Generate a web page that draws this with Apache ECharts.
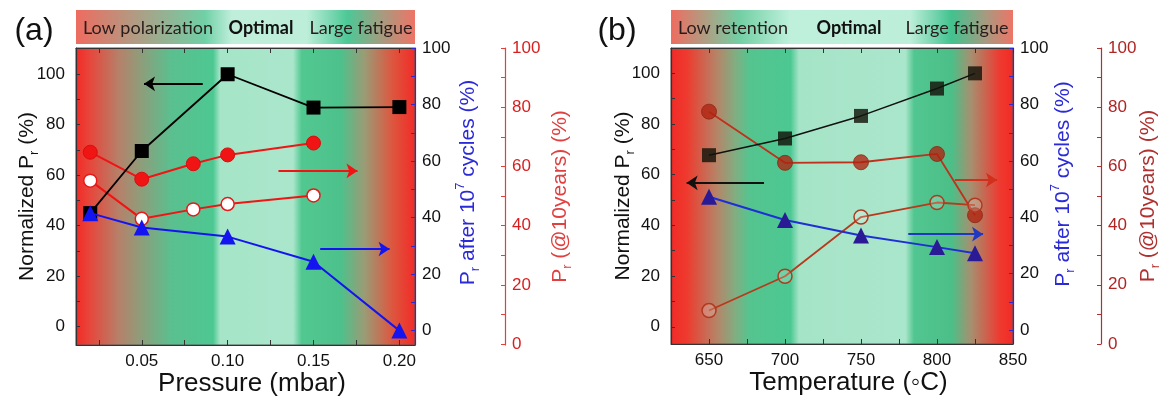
<!DOCTYPE html>
<html><head><meta charset="utf-8">
<script src="https://cdn.jsdelivr.net/npm/echarts@6.0.0/dist/echarts.min.js"></script>
<style>html,body{margin:0;padding:0;background:#fff}#c{width:1164px;height:404px}</style>
</head><body><div id="c"></div>
<script>
// ---------- data (a): pressure ----------
const pressureNorm = [0.02, 0.05, 0.10, 0.15, 0.20];
const normPrA      = [45.0, 69.6, 100, 86.8, 87.0];
const fatigueA     = [41.6, 36.5, 33.3, 24.4, 0];
const pressureRet  = [0.02, 0.05, 0.08, 0.10, 0.15];
const retFilledA   = [64.8, 55.7, 60.9, 63.9, 67.9];
const retOpenA     = [55.2, 42.3, 45.5, 47.3, 50.2];
// ---------- data (b): temperature ----------
const temps        = [650, 700, 750, 800, 825];
const normPrB      = [67.7, 74.3, 83.2, 94.0, 100];
const fatigueB     = [47.3, 39.0, 33.5, 29.4, 27.2];
const retFilledB   = [78.5, 61.2, 61.4, 64.2, 43.5];
const retOpenB     = [11.3, 22.9, 42.9, 47.8, 46.9];
// ---------- ticks ----------
const pressureTicks  = [0.025, 0.05, 0.075, 0.10, 0.125, 0.15, 0.175, 0.20];
const pressureLabels = [0.05, 0.10, 0.15, 0.20];
const tempTicks      = [650, 675, 700, 725, 750, 775, 800, 825, 850];
const tempLabels     = [650, 700, 750, 800, 850];
const yLabels        = [0, 20, 40, 60, 80, 100];
const yTicks         = [0, 10, 20, 30, 40, 50, 60, 70, 80, 90, 100];
// ---------- annotation arrows (data coords) ----------
const arrowNormA = [[0.0855, 96.2], [0.0513, 96.2]];
const arrowRetA  = [[0.1296, 58.5], [0.1756, 58.5]];
const arrowFatA  = [[0.1539, 28.9], [0.1943, 28.9]];
const arrowNormB = [[686.2, 56.8], [635.3, 56.8]];
const arrowRetB  = [[811.8, 55.4], [839.5, 55.4]];
const arrowFatB  = [[781.1, 34.0], [830.3, 34.0]];

const F = "'Liberation Sans', Arial, sans-serif";
const chart = echarts.init(document.getElementById('c'));
const LG = echarts.graphic.LinearGradient;
function grad(stops) { return new LG(0, 0, 1, 0, stops.map(s => ({ offset: s[0], color: s[1] }))); }
function pairs(xs, ys) { return xs.map((x, i) => [x, ys[i]]); }
function arrow(a, color) {
  return { silent: true, animation: false, symbol: ['none', 'arrow'], symbolSize: 11,
    lineStyle: { color: color, width: 2, type: 'solid' }, label: { show: false },
    emphasis: { disabled: true },
    data: [[{ coord: a[0] }, { coord: a[1] }]] };
}
function richName(color) {
  return { fontFamily: F, fontSize: 21, color: color,
    rich: {
      n: { fontFamily: F, fontSize: 21, lineHeight: 28, color: color },
      s: { fontFamily: F, fontSize: 13, lineHeight: 14, verticalAlign: 'bottom', color: color },
      p: { fontFamily: F, fontSize: 13, lineHeight: 14, verticalAlign: 'top', color: color }
    } };
}

const bgA = grad([[0,'#f22a26'],[0.04,'#e8453a'],[0.13,'#b4826a'],[0.19,'#8f9c7a'],[0.28,'#5bbf8f'],[0.405,'#4dc892'],[0.425,'#a6e5c8'],[0.64,'#aae6cb'],[0.665,'#52c891'],[0.78,'#4dc18b'],[0.85,'#9b9b76'],[0.93,'#dc5840'],[1,'#f22a26']]);
const bgB = grad([[0,'#f22a26'],[0.047,'#ee3a2e'],[0.135,'#b68468'],[0.19,'#80ae82'],[0.23,'#55c48f'],[0.35,'#4cc892'],[0.375,'#a6e4c8'],[0.685,'#aae6cb'],[0.71,'#52c690'],[0.82,'#4cbf88'],[0.875,'#a59070'],[0.96,'#ee3a30'],[1,'#f22a26']]);
const bandA = grad([[0,'#ee6c60'],[0.2,'#a8a288'],[0.38,'#6fd0a6'],[0.46,'#c0eedb'],[0.68,'#bdeed9'],[0.8,'#4cc896'],[0.9,'#a49c80'],[1,'#ee7466']]);
const bandB = grad([[0,'#ee6c60'],[0.2,'#72cfa4'],[0.35,'#bff0dc'],[0.7,'#bdeed9'],[0.82,'#42c28f'],[0.92,'#a69a80'],[1,'#ee7466']]);

function xAxisDef(grid, min, max, ticks, labels, fmt, name, pos) {
  const top = pos === 'top';
  return { type: 'value', gridIndex: grid, position: pos, min: min, max: max,
    name: top ? '' : name, nameLocation: 'middle', nameGap: 26, nameMoveOverlap: false,
    nameTextStyle: { fontFamily: F, fontSize: 26, color: '#111', padding: [0, 0, 0, 13] },
    axisLine: { show: true, onZero: false, lineStyle: { color: '#333', width: 1 } },
    axisTick: { show: true, inside: true, length: 5, customValues: ticks, lineStyle: { color: '#333' } },
    axisLabel: { show: !top, customValues: labels, formatter: fmt, fontFamily: F, fontSize: 17, color: '#111', margin: 8 },
    splitLine: { show: false } };
}
function yAxisDef(grid, pos, offset, min, max, color, labelColor, name, nameGap, tickInside, pad) {
  return { type: 'value', gridIndex: grid, position: pos, offset: offset, min: min, max: max,
    name: name, nameLocation: 'middle', nameGap: nameGap, nameRotate: 90, nameMoveOverlap: false,
    nameTextStyle: Object.assign(richName(color === '#333' ? '#111' : color), { padding: pad || 0 }),
    axisLine: { show: true, onZero: false, lineStyle: { color: color, width: 1.2 } },
    axisTick: { show: true, inside: tickInside, length: 4, customValues: yTicks, lineStyle: { color: color } },
    axisLabel: { customValues: yLabels, fontFamily: F, fontSize: 17, color: labelColor, margin: pos === 'left' ? 11 : 7 },
    splitLine: { show: false } };
}

const option = {
  animation: false,
  grid: [
    { left: 76, right: 749, top: 48, bottom: 59, show: true, backgroundColor: bgA, borderColor: '#555', borderWidth: 1 },
    { left: 671, right: 151, top: 48, bottom: 60, show: true, backgroundColor: bgB, borderColor: '#555', borderWidth: 1 }
  ],
  xAxis: [
    xAxisDef(0, 0.0117, 0.2091, pressureTicks, pressureLabels, v => v.toFixed(2), 'Pressure (mbar)', 'bottom'),
    xAxisDef(0, 0.0117, 0.2091, pressureTicks, pressureLabels, v => v.toFixed(2), '', 'top'),
    xAxisDef(1, 625, 850, tempTicks, tempLabels, v => String(v), 'Temperature (\u25e6C)', 'bottom'),
    xAxisDef(1, 625, 850, tempTicks, tempLabels, v => String(v), '', 'top')
  ],
  yAxis: [
    yAxisDef(0, 'left', 0, -7.25, 110.4, '#333', '#111', '{n|Normalized P}{s|r}{n| (%)}', 35, true),
    yAxisDef(0, 'right', 0, -5.1, 100.1, '#2a2ad8', '#111', '{n|P}{s|r}{n| after 10}{p|7}{n| cycles (%)}', 39, true, [0, 0, 0, 28]),
    yAxisDef(0, 'right', 90, -0.3, 100, '#e04040', '#d81e1e', '{n|P}{s|r}{n| (@10years) (%)}', 41, true),
    yAxisDef(1, 'left', 0, -6.8, 110, '#333', '#111', '{n|Normalized P}{s|r}{n| (%)}', 34, true),
    yAxisDef(1, 'right', 0, -5.0, 100.1, '#2a2ad8', '#111', '{n|P}{s|r}{n| after 10}{p|7}{n| cycles (%)}', 36, true, [0, 0, 0, 24]),
    yAxisDef(1, 'right', 88, 0, 100, '#b03030', '#b02424', '{n|P}{s|r}{n| (@10years) (%)}', 33, true)
  ],
  series: [
    { type: 'line', xAxisIndex: 0, yAxisIndex: 2, data: pairs(pressureRet, retFilledA), symbol: 'circle', symbolSize: 14,
      itemStyle: { color: '#f01414', borderColor: '#d80f0f', borderWidth: 1 }, lineStyle: { color: '#f01414', width: 2 },
      markLine: arrow(arrowRetA, '#f01414'), z: 2 },
    { type: 'line', xAxisIndex: 0, yAxisIndex: 2, data: pairs(pressureRet, retOpenA), symbol: 'circle', symbolSize: 13,
      itemStyle: { color: '#ffffff', borderColor: '#e81818', borderWidth: 1.5 }, lineStyle: { color: '#f01414', width: 2 }, z: 2 },
    { type: 'line', xAxisIndex: 0, yAxisIndex: 0, data: pairs(pressureNorm, normPrA), symbol: 'rect', symbolSize: 14,
      itemStyle: { color: '#000' }, lineStyle: { color: '#000', width: 1.8 },
      markLine: arrow(arrowNormA, '#000'), z: 3 },
    { type: 'line', xAxisIndex: 0, yAxisIndex: 1, data: pairs(pressureNorm, fatigueA), symbol: 'triangle', symbolSize: 16,
      itemStyle: { color: '#1414f0' }, lineStyle: { color: '#1414f0', width: 2 },
      markLine: arrow(arrowFatA, '#1414f0'), z: 4 },

    { type: 'line', xAxisIndex: 2, yAxisIndex: 5, data: pairs(temps, retFilledB), symbol: 'circle', symbolSize: 15,
      itemStyle: { color: 'rgba(175,35,15,0.78)', borderColor: 'rgba(140,40,20,0.8)', borderWidth: 1 }, lineStyle: { color: '#c0301c', width: 1.8 },
      markLine: arrow(arrowRetB, '#d0301c'), z: 2 },
    { type: 'line', xAxisIndex: 2, yAxisIndex: 5, data: pairs(temps, retOpenB), symbol: 'circle', symbolSize: 14,
      itemStyle: { color: 'rgba(255,255,255,0.2)', borderColor: '#b03a20', borderWidth: 1.5 }, lineStyle: { color: '#b83a1c', width: 1.8 }, z: 2 },
    { type: 'line', xAxisIndex: 2, yAxisIndex: 3, data: pairs(temps, normPrB), symbol: 'rect', symbolSize: 14,
      itemStyle: { color: 'rgba(20,20,10,0.82)' }, lineStyle: { color: '#111', width: 1.5 },
      markLine: arrow(arrowNormB, '#111'), z: 3 },
    { type: 'line', xAxisIndex: 2, yAxisIndex: 4, data: pairs(temps, fatigueB), symbol: 'triangle', symbolSize: 16,
      itemStyle: { color: '#2a1a96' }, lineStyle: { color: '#1e2fd6', width: 2 },
      markLine: arrow(arrowFatB, '#2038c0'), z: 4 }
  ],
  graphic: [
    { type: 'rect', shape: { x: 76, y: 10, width: 339, height: 34 }, style: { fill: bandA }, z: 0 },
    { type: 'rect', shape: { x: 671, y: 10, width: 342, height: 34 }, style: { fill: bandB }, z: 0 },
    { type: 'text', x: 148, y: 28, style: { text: 'Low polarization', font: "18px Lato, 'Open Sans', sans-serif", fill: '#2a1c1c', align: 'center', verticalAlign: 'middle' }, z: 1 },
    { type: 'text', x: 261, y: 28, style: { text: 'Optimal', font: "bold 18px Lato, 'Open Sans', sans-serif", fill: '#111', align: 'center', verticalAlign: 'middle' }, z: 1 },
    { type: 'text', x: 361, y: 28, style: { text: 'Large fatigue', font: "18px Lato, 'Open Sans', sans-serif", fill: '#2a1c1c', align: 'center', verticalAlign: 'middle' }, z: 1 },
    { type: 'text', x: 733, y: 28, style: { text: 'Low retention', font: "18px Lato, 'Open Sans', sans-serif", fill: '#2a1c1c', align: 'center', verticalAlign: 'middle' }, z: 1 },
    { type: 'text', x: 849, y: 28, style: { text: 'Optimal', font: "bold 18px Lato, 'Open Sans', sans-serif", fill: '#111', align: 'center', verticalAlign: 'middle' }, z: 1 },
    { type: 'text', x: 957, y: 28, style: { text: 'Large fatigue', font: "18px Lato, 'Open Sans', sans-serif", fill: '#2a1c1c', align: 'center', verticalAlign: 'middle' }, z: 1 },
    { type: 'text', x: 34, y: 31, style: { text: '(a)', font: "32px 'Liberation Sans', Arial, sans-serif", fill: '#111', align: 'center', verticalAlign: 'middle' }, z: 1 },
    { type: 'text', x: 617, y: 31, style: { text: '(b)', font: "32px 'Liberation Sans', Arial, sans-serif", fill: '#111', align: 'center', verticalAlign: 'middle' }, z: 1 }
  ]
};
chart.setOption(option);
</script>
</body></html>
